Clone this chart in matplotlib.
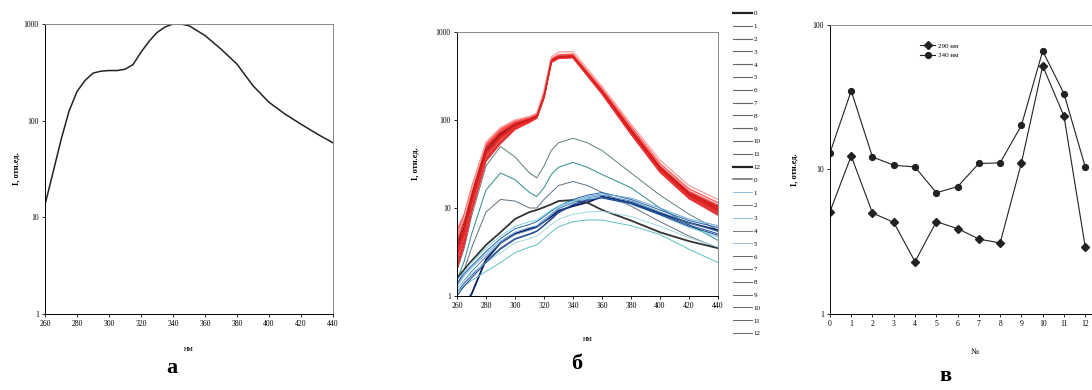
import matplotlib
matplotlib.use('Agg')
import matplotlib.pyplot as plt
from matplotlib.lines import Line2D

plt.rcParams['font.family'] = ['Liberation Serif', 'DejaVu Serif']

# panel a: spectrum
wl_a = [260, 265, 270, 275, 280, 285, 290, 295, 300, 305, 310, 315, 320, 325,
        330, 335, 340, 345, 350, 360, 370, 380, 390, 400, 410, 420, 430, 440]
int_a = [13.5, 29, 63, 125, 200, 260, 310, 325, 330, 330, 340, 380, 510, 660,
         815, 930, 1000, 1000, 960, 760, 550, 385, 230, 155, 117, 92, 73, 59]

# panel b: spectra of the samples (two groups)
wl_b = [260, 265, 270, 280, 290, 300, 310, 315, 320, 325, 330, 340, 350, 360,
        380, 400, 420, 440]
red_1 = [3.6, 6.0, 13, 45, 68, 88, 100, 110, 190, 470, 520, 530, 330, 210, 75, 28, 14, 9.5]
red_2 = [2.8, 5.0, 11, 40, 62, 84, 97, 108, 185, 460, 510, 520, 325, 205, 72, 27, 13.5, 9.0]
red_3 = [4.5, 7.5, 15, 50, 74, 92, 104, 113, 195, 480, 530, 540, 340, 215, 78, 29.5, 15, 10.2]
red_4 = [2.2, 4.2, 9.5, 36, 56, 80, 95, 106, 180, 455, 505, 515, 320, 200, 70, 26, 13, 8.6]
red_5 = [5.2, 8.0, 16, 52, 77, 95, 106, 115, 200, 490, 540, 550, 345, 220, 80, 30, 15.5, 10.8]
red_6 = [3.2, 5.5, 12, 43, 65, 86, 99, 109, 188, 468, 515, 525, 332, 212, 76, 29, 14.5, 10.0]
red_7 = [2.5, 4.6, 10, 38, 59, 82, 96, 107, 182, 458, 508, 518, 322, 203, 71, 26.5, 13.2, 8.8]
red_8 = [4.0, 6.8, 14, 48, 71, 90, 102, 112, 193, 476, 525, 535, 337, 214, 77, 29, 14.8, 10.4]
red_9 = [5.6, 8.5, 17, 55, 80, 97, 107, 116, 205, 495, 550, 560, 355, 228, 84, 32, 16.5, 11.5]
red_10 = [3.0, 5.2, 11.5, 42, 63, 85, 98, 108, 186, 463, 512, 522, 328, 208, 73, 27.5, 14, 9.3]
red_11 = [2.0, 3.8, 9, 34, 54, 78, 94, 105, 178, 450, 500, 510, 318, 198, 69, 25.5, 12.8, 8.3]
red_12 = [4.8, 7.8, 16, 56, 82, 100, 110, 120, 215, 520, 590, 600, 380, 240, 90, 35, 18, 12.5]
red_13 = [3.4, 5.8, 12.5, 44, 66, 87, 100, 110, 190, 472, 518, 528, 334, 211, 75, 28.5, 14.2, 9.7]

blue_1 = [2.0, 3.5, 8, 30, 50, 38, 25, 22, 30, 45, 55, 62, 55, 45, 25, 14, 8.5, 5.6]
blue_2 = [1.5, 2.5, 5, 16, 25, 21, 15, 13.5, 17, 24, 29, 33, 29, 24, 17, 10, 6.5, 4.3]
blue_3 = [1.3, 2.0, 3.5, 9, 12.5, 12, 10, 10, 12.5, 15, 18, 20, 18, 15, 10.5, 7, 4.8, 3.5]
blue_4 = [0.6, 0.8, 1.05, 2.6, 4.0, 5.1, 5.8, 6.1, 7, 8, 9.3, 10.5, 11.6, 13.5, 11.5, 8.7, 6.8, 5.6]
blue_5 = [1.6, 2.0, 2.5, 3.8, 5.3, 7.5, 9, 9.5, 10.2, 11, 12, 12.3, 11.5, 9.5, 7.2, 5.3, 4.2, 3.5]
blue_6 = [1.4, 1.8, 2.2, 3.2, 4.5, 5.8, 6.5, 7, 8, 9.2, 10.5, 12.5, 14, 15, 12.5, 9.5, 7.2, 6.0]
blue_7 = [1.2, 1.5, 1.9, 2.8, 4, 5, 5.6, 6, 7, 8.3, 9.8, 11.5, 13, 14, 12, 9, 6.8, 5.4]
blue_8 = [1.3, 1.7, 2.1, 3, 4.2, 5.3, 6, 6.3, 7.4, 8.6, 10, 12, 13.5, 14.5, 13, 10, 7.5, 6.3]
blue_9 = [1.1, 1.4, 1.7, 2.5, 3.5, 4.5, 5.1, 5.5, 6.4, 7.6, 9, 11, 12.5, 13.3, 11.5, 8.6, 6.4, 5.1]
blue_10 = [1.5, 1.9, 2.4, 3.5, 4.8, 6.2, 7, 7.3, 8.3, 9.5, 10.6, 12, 12.8, 13, 11, 8.3, 6, 4.7]
blue_11 = [1.1, 1.3, 1.5, 1.9, 2.4, 3.1, 3.6, 3.8, 4.5, 5.3, 6.1, 7, 7.3, 7.3, 6.3, 5.0, 3.4, 2.4]
blue_12 = [1.2, 1.5, 1.8, 2.4, 3.1, 4.0, 4.5, 4.8, 5.6, 6.5, 7.4, 8.5, 9, 9.2, 8, 6.2, 4.6, 3.6]
blue_13 = [1.0, 1.3, 1.6, 2.4, 3.4, 4.4, 5.0, 5.4, 6.3, 7.4, 8.8, 10.8, 12.2, 13.0, 11.2, 8.4, 6.2, 4.9]

reds = [red_1, red_2, red_3, red_4, red_5, red_6, red_7, red_8, red_9, red_10, red_11, red_12, red_13]
blues = [blue_1, blue_2, blue_3, blue_4, blue_5, blue_6, blue_7, blue_8, blue_9, blue_10, blue_11, blue_12, blue_13]
red_colors = ['#7a0a0a', '#e31a1c', '#ff3030', '#d01010', '#f05050', '#ff2020', '#e84040',
              '#c81818', '#ff5a5a', '#e02828', '#f03030', '#f4a6a6', '#d62020']
blue_colors = ['#5f7f80', '#2e8b8b', '#607080', '#0d1b5e', '#333333', '#1f5fa8', '#4682b4',
               '#6fa8dc', '#2050a0', '#7fd0e0', '#5fbfbf', '#9fd8e0', '#1a3f8a']
sample_labels = [str(i) for i in range(13)]

# panel c: intensity per sample
sample_no = list(range(13))
int_290 = [5.1, 12.4, 5.0, 4.3, 2.3, 4.35, 3.9, 3.3, 3.1, 11.1, 52, 23.4, 2.9]
int_340 = [13.0, 35, 12.2, 10.7, 10.4, 6.9, 7.6, 11.0, 11.1, 20.2, 66, 33.5, 10.4]

fig = plt.figure(figsize=(10.92, 3.9), dpi=100)


def style(ax):
    ax.set_yscale('log')
    ax.minorticks_off()
    ax.tick_params(direction='out', length=2.5, width=0.6, labelsize=5.5, pad=2)
    for s in ax.spines.values():
        s.set_linewidth(0.7)
    ax.spines['top'].set_color('#888888')
    ax.spines['right'].set_color('#888888')


# a
ax1 = fig.add_axes([0.0412, 0.1949, 0.2637, 0.7436])
ax1.plot(wl_a, int_a, color='#222222', lw=1.1)
style(ax1)
ax1.set_xlim(260, 440)
ax1.set_ylim(1, 1000)
ax1.set_xticks(range(260, 441, 20))
ax1.set_yticks([1, 10, 100, 1000])
ax1.set_yticklabels(['1', '10', '100', '1000'])
ax1.set_xlabel('нм', fontsize=6, labelpad=12)
ax1.set_ylabel('I, отн.ед.', fontsize=6, fontweight='bold', labelpad=2)
fig.text(172 / 1092, 1 - 368 / 390, 'а', fontsize=16, fontweight='bold', ha='center', va='center')

# b
ax2 = fig.add_axes([0.4185, 0.241, 0.2390, 0.677])
for vals, c in zip(blues, blue_colors):
    lw = 1.3 if c in ('#0d1b5e', '#333333') else 0.7
    ax2.plot(wl_b, vals, color=c, lw=lw)
for vals, c in zip(reds, red_colors):
    lw = 1.3 if c == '#7a0a0a' else 1.0
    ax2.plot(wl_b, vals, color=c, lw=lw)
style(ax2)
ax2.set_xlim(260, 440)
ax2.set_ylim(1, 1000)
ax2.set_xticks(range(260, 441, 20))
ax2.set_yticks([1, 10, 100, 1000])
ax2.set_yticklabels(['1', '10', '100', '1000'])
ax2.set_xlabel('нм', fontsize=6, labelpad=18)
ax2.set_ylabel('I, отн.ед.', fontsize=6, fontweight='bold', labelpad=12)
fig.text(577 / 1092, 1 - 364 / 390, 'б', fontsize=16, fontweight='bold', ha='center', va='center')

handles = []
for i in range(13):
    handles.append(Line2D([], [], color='#222222' if i in (0, 12) else '#666666',
                          lw=1.6 if i in (0, 12) else 0.8))
for i in range(13):
    handles.append(Line2D([], [], color=['#777777', '#8fb8d8'][i % 2] if i < 6 else '#666666',
                          lw=1.2 if i == 0 else 0.7))
fig.legend(handles, sample_labels + sample_labels, loc='upper left',
           bbox_to_anchor=(730 / 1092, 1 - 7 / 390), frameon=False, fontsize=5,
           handlelength=2.6, handletextpad=0.3, labelspacing=1.0, borderpad=0)

# c
ax3 = fig.add_axes([0.760, 0.195, 0.265, 0.741])
ax3.plot(sample_no, int_290, color='#222222', lw=0.8, marker='D', ms=3.8, label='290 нм')
ax3.plot(sample_no, int_340, color='#222222', lw=0.8, marker='o', ms=4.2, label='340 нм')
style(ax3)
ax3.set_xlim(0, 13.6)
ax3.set_ylim(1, 100)
ax3.set_xticks(sample_no)
ax3.set_yticks([1, 10, 100])
ax3.set_yticklabels(['1', '10', '100'])
ax3.set_xlabel('№', fontsize=6, labelpad=14)
ax3.set_ylabel('I, отн.ед.', fontsize=6, fontweight='bold', labelpad=10)
ax3.legend(loc='upper left', bbox_to_anchor=(0.3, 0.95), frameon=False, fontsize=5,
           handlelength=2.2, handletextpad=0.4, labelspacing=0.5, borderpad=0)
fig.text(945 / 1092, 1 - 376 / 390, 'в', fontsize=16, fontweight='bold', ha='center', va='center')

fig.savefig('out.png', dpi=100)
